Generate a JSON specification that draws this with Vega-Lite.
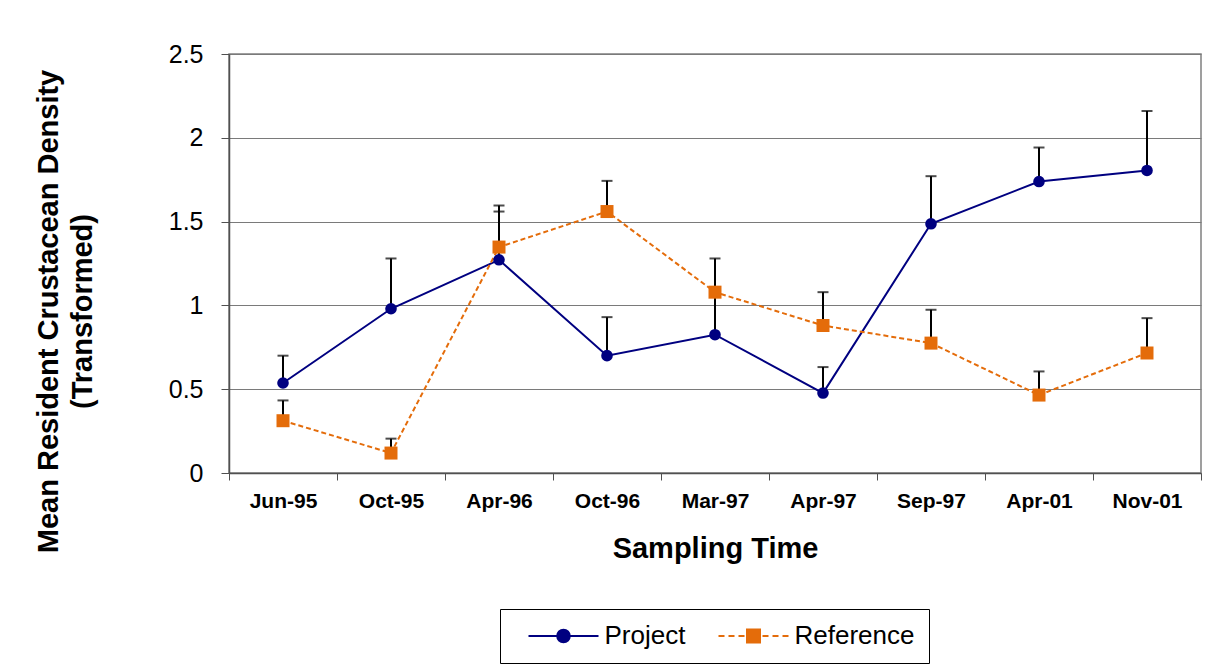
{
  "$schema": "https://vega.github.io/schema/vega-lite/v6.json",
  "width": 972,
  "height": 419,
  "autosize": {"type": "none"},
  "padding": {"left": 229, "top": 54, "right": 18, "bottom": 192},
  "background": "white",
  "config": {
    "font": "Liberation Sans",
    "view": {"stroke": "#808080", "strokeWidth": 1.5},
    "legend": {"strokeColor": "black", "strokeWidth": 1}
  },
  "data": {
    "values": [
      {"date": "Jun-95", "series": "Project", "value": 0.537, "upper": 0.70},
      {"date": "Oct-95", "series": "Project", "value": 0.98, "upper": 1.28},
      {"date": "Apr-96", "series": "Project", "value": 1.272, "upper": 1.56},
      {"date": "Oct-96", "series": "Project", "value": 0.70, "upper": 0.93},
      {"date": "Mar-97", "series": "Project", "value": 0.825, "upper": 1.09},
      {"date": "Apr-97", "series": "Project", "value": 0.477, "upper": 0.632},
      {"date": "Sep-97", "series": "Project", "value": 1.487, "upper": 1.771},
      {"date": "Apr-01", "series": "Project", "value": 1.739, "upper": 1.942},
      {"date": "Nov-01", "series": "Project", "value": 1.805, "upper": 2.16},
      {"date": "Jun-95", "series": "Reference", "value": 0.312, "upper": 0.433},
      {"date": "Oct-95", "series": "Reference", "value": 0.119, "upper": 0.205},
      {"date": "Apr-96", "series": "Reference", "value": 1.348, "upper": 1.596},
      {"date": "Oct-96", "series": "Reference", "value": 1.56, "upper": 1.743},
      {"date": "Mar-97", "series": "Reference", "value": 1.079, "upper": 1.28},
      {"date": "Apr-97", "series": "Reference", "value": 0.88, "upper": 1.079},
      {"date": "Sep-97", "series": "Reference", "value": 0.775, "upper": 0.974},
      {"date": "Apr-01", "series": "Reference", "value": 0.465, "upper": 0.606},
      {"date": "Nov-01", "series": "Reference", "value": 0.716, "upper": 0.924}
    ]
  },
  "encoding": {
    "x": {
      "field": "date", "type": "nominal",
      "sort": ["Jun-95", "Oct-95", "Apr-96", "Oct-96", "Mar-97", "Apr-97", "Sep-97", "Apr-01", "Nov-01"],
      "scale": {"paddingInner": 0, "paddingOuter": 0},
      "axis": {
        "title": "Sampling Time", "titleFontSize": 29, "titleFontWeight": "bold", "titleColor": "black",
        "titleBaseline": "alphabetic", "titleY": 84.4,
        "labelFontSize": 21, "labelFontWeight": "bold", "labelColor": "black", "labelAngle": 0,
        "labelPadding": 10, "tickSize": 7, "tickBand": "extent",
        "domainColor": "#505050", "tickColor": "#505050", "domainWidth": 1.5, "grid": false
      }
    },
    "y": {
      "field": "value", "type": "quantitative",
      "scale": {"domain": [0, 2.5]},
      "axis": {
        "title": ["Mean Resident Crustacean Density", "(Transformed)"],
        "titleFontSize": 29, "titleFontWeight": "bold", "titleColor": "black",
        "titleBaseline": "alphabetic", "titleX": -171.7, "titleY": 257, "titleLineHeight": 34.4, "titleAngle": 270,
        "values": [0, 0.5, 1, 1.5, 2, 2.5], "format": "~g",
        "labelFontSize": 25, "labelColor": "black", "labelPadding": 18, "tickSize": 8,
        "gridColor": "#7a7a7a", "gridWidth": 1.2,
        "domainColor": "#505050", "tickColor": "#505050", "domainWidth": 1.5
      }
    }
  },
  "resolve": {"scale": {"color": "independent", "shape": "independent", "size": "independent", "fill": "independent", "stroke": "independent"}},
  "layer": [
    {
      "transform": [{"filter": "datum.series === 'Project'"}],
      "mark": {"type": "line", "strokeWidth": 2, "color": "#000080"}
    },
    {
      "transform": [{"filter": "datum.series === 'Reference'"}],
      "mark": {"type": "line", "strokeWidth": 2, "color": "#E46C0A", "strokeDash": [5, 3]}
    },
    {
      "mark": {"type": "rule", "color": "black", "strokeWidth": 2},
      "encoding": {
        "y2": {"field": "upper"}
      }
    },
    {
      "mark": {"type": "tick", "orient": "horizontal", "color": "black", "size": 11, "thickness": 2},
      "encoding": {
        "y": {"field": "upper", "type": "quantitative"}
      }
    },
    {
      "mark": {"type": "point", "filled": true, "opacity": 1},
      "encoding": {
        "color": {"field": "series", "type": "nominal", "scale": {"domain": ["Project", "Reference"], "range": ["#000080", "#E46C0A"]}, "legend": null},
        "shape": {"field": "series", "type": "nominal", "scale": {"domain": ["Project", "Reference"], "range": ["circle", "square"]}, "legend": null},
        "size": {"field": "series", "type": "nominal", "scale": {"domain": ["Project", "Reference"], "range": [135, 169]}, "legend": null}
      }
    },
    {
      "mark": {"type": "point", "filled": true, "opacity": 0},
      "encoding": {
        "fill": {
          "field": "series", "type": "nominal",
          "scale": {"domain": ["Project", "Reference"], "range": ["#000080", "#E46C0A"]},
          "legend": {
            "title": null, "orient": "none", "legendX": 271, "legendY": 555, "direction": "horizontal",
            "strokeColor": "black", "padding": 14, "fillColor": "white",
            "labelFontSize": 26, "labelColor": "black", "labelFont": "Liberation Sans",
            "columnPadding": 18, "symbolSize": 400, "symbolStrokeWidth": 2, "symbolOpacity": 1,
            "symbolOffset": 36.5, "labelOffset": 28
          }
        },
        "stroke": {
          "field": "series", "type": "nominal",
          "scale": {"domain": ["Project", "Reference"], "range": ["#000080", "#E46C0A"]},
          "legend": {
            "title": null, "orient": "none", "legendX": 271, "legendY": 555, "direction": "horizontal",
            "strokeColor": "black", "padding": 14, "fillColor": "white",
            "labelFontSize": 26, "labelColor": "black", "labelFont": "Liberation Sans",
            "columnPadding": 18, "symbolSize": 400, "symbolStrokeWidth": 2, "symbolOpacity": 1,
            "symbolOffset": 36.5, "labelOffset": 28
          }
        },
        "shape": {
          "field": "series", "type": "nominal",
          "scale": {"domain": ["Project", "Reference"], "range": [
            "M-3.5,0H3.5M-0.63,0A0.63,0.63 0 1,0 0.63,0A0.63,0.63 0 1,0 -0.63,0Z",
            "M-3.5,0H-2.9M-2.5,0H-1.9M-1.5,0H-0.9M0.9,0H1.5M1.9,0H2.5M2.9,0H3.5M-0.65,-0.65H0.65V0.65H-0.65Z"
          ]},
          "legend": {
            "title": null, "orient": "none", "legendX": 271, "legendY": 555, "direction": "horizontal",
            "strokeColor": "black", "padding": 14, "fillColor": "white",
            "labelFontSize": 26, "labelColor": "black", "labelFont": "Liberation Sans",
            "columnPadding": 18, "symbolSize": 400, "symbolStrokeWidth": 2, "symbolOpacity": 1,
            "symbolOffset": 36.5, "labelOffset": 28
          }
        }
      }
    }
  ]
}
